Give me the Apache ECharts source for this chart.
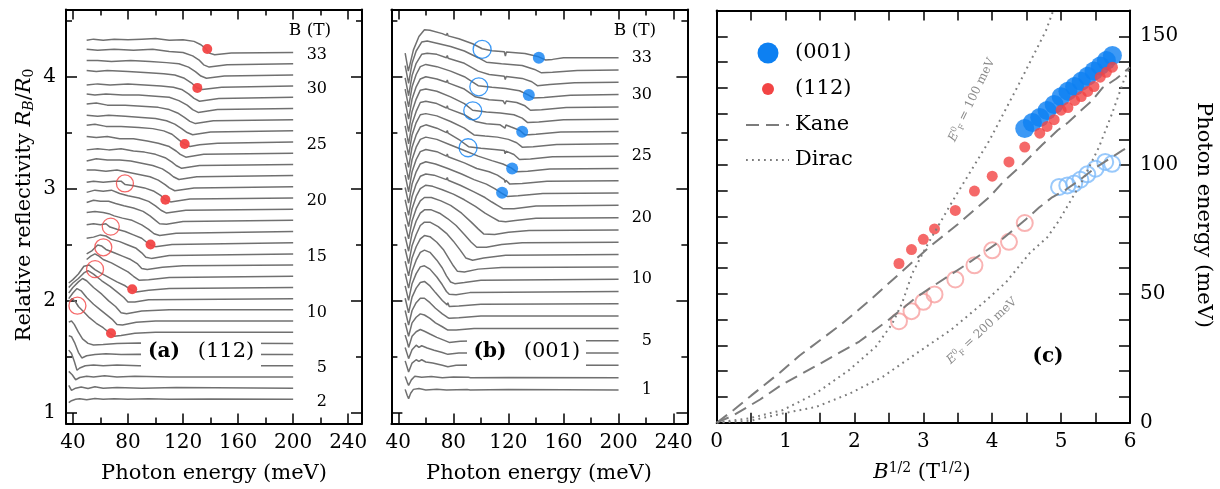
<!DOCTYPE html>
<html><head><meta charset="utf-8">
<script src="https://cdn.jsdelivr.net/npm/echarts@6/dist/echarts.min.js"></script>
<style>html,body{margin:0;padding:0;background:#fff}#c{width:1220px;height:489px}</style>
</head><body><div id="c"></div><script>
// ---------------- DATA ----------------
// Panel (a): (112) spectra, field B (T); each curve = [photon energy meV, R_B/R_0 - 1 relative to curve's offset]
const fieldsA = [2,3,4,5,6,7,8,9,10,11,12,13,14,15,16,17,18,19,20,21,22,23,24,25,26,27,28,29,30,31,32,33];
const offsetBaseA = 0.916, offsetStepA = 0.1;
const spectraA = [
 [[37,-0.03],[39,-0.012],[42,0.0],[45,0.006],[50,-0.004],[56,0.008],[62,0.0],[70,0.006],[80,0.0],[95,0.006],[110,0.0],[140,0.003],[200,0]],
 [[37,0.025],[39,-0.02],[42,0.0],[46,0.01],[51,-0.004],[56,0.012],[62,0.0],[72,0.006],[90,0.0],[115,0.005],[200,0]],
 [[37,0.05],[39.5,0.02],[42,-0.025],[45,-0.005],[50,0.006],[55,0.0],[63,0.01],[72,0.0],[85,0.006],[110,0.0],[200,0]],
 [[37,0.14],[39,0.11],[41,0.04],[43,-0.04],[45,-0.02],[49,0.0],[55,0.008],[62,0.0],[72,0.006],[88,0.0],[200,0]],
 [[37,0.17],[39,0.16],[41.5,0.1],[44,0.02],[46.5,-0.03],[50,-0.01],[56,0.0],[64,0.008],[75,0.0],[88,0.004],[200,0]],
 [[37,0.19],[39,0.2],[41,0.17],[44,0.1],[47,0.04],[51,0.0],[55,-0.015],[62,-0.01],[72,0.0],[88,0.004],[200,0]],
 [[37,0.27],[39.5,0.3],[42,0.27],[44,0.23],[48,0.18],[52,0.13],[57,0.08],[62,0.04],[66,0.0],[70,-0.035],[75,-0.03],[85,-0.01],[100,0.0],[200,0]],
 [[37,0.2],[40,0.25],[43,0.29],[46,0.27],[50,0.21],[55,0.15],[60,0.1],[65,0.05],[69,0.01],[72,-0.03],[76,-0.035],[86,-0.01],[100,0],[200,0]],
 [[37,0.15],[40,0.2],[44,0.25],[47,0.28],[50,0.26],[55,0.2],[61,0.14],[66,0.08],[71,0.03],[75,-0.025],[79,-0.035],[90,-0.01],[110,0],[200,0]],
 [[37,0.1],[40,0.14],[44,0.18],[48,0.23],[51,0.25],[55,0.22],[61,0.16],[67,0.11],[72,0.06],[77,0.01],[80,-0.03],[85,-0.03],[95,-0.01],[200,0]],
 [[37,0.04],[40,0.07],[44,0.12],[48,0.19],[52,0.2],[56,0.16],[60,0.13],[66,0.09],[72,0.05],[78,0.015],[82,-0.02],[86,-0.04],[95,-0.025],[110,-0.01],[200,0]],
 [[50,0.15],[53,0.18],[56,0.2],[59,0.18],[62,0.15],[68,0.12],[74,0.08],[80,0.04],[84,0.0],[88,-0.035],[95,-0.03],[110,-0.01],[200,0]],
 [[50,0.1],[54,0.13],[58,0.18],[61,0.17],[64,0.14],[70,0.11],[76,0.08],[82,0.05],[87,0.01],[90,-0.03],[94,-0.04],[105,-0.02],[120,-0.005],[200,0]],
 [[50,0.14],[55,0.15],[60,0.17],[64,0.16],[68,0.13],[74,0.11],[80,0.08],[86,0.05],[90,0.01],[93,-0.03],[97,-0.04],[110,-0.015],[200,0]],
 [[50,0.16],[55,0.17],[60,0.16],[64,0.17],[67,0.14],[72,0.12],[78,0.1],[84,0.07],[90,0.04],[94,0.0],[96.5,-0.02],[100,-0.035],[112,-0.015],[200,0]],
 [[50,0.17],[56,0.18],[62,0.17],[66,0.16],[70,0.14],[76,0.12],[83,0.1],[90,0.06],[95,0.02],[99,-0.02],[103,-0.035],[115,-0.015],[200,0]],
 [[50,0.16],[55,0.18],[60,0.17],[66,0.17],[71,0.15],[77,0.13],[84,0.11],[91,0.08],[96,0.04],[100,0.0],[103,-0.03],[108,-0.035],[120,-0.01],[200,0]],
 [[50,0.15],[56,0.17],[62,0.16],[68,0.17],[74,0.14],[80,0.12],[88,0.1],[95,0.07],[100,0.03],[104,-0.01],[108,-0.035],[122,-0.01],[200,0]],
 [[50,0.14],[55,0.15],[62,0.14],[70,0.15],[75,0.15],[78,0.12],[84,0.11],[92,0.09],[99,0.06],[104,0.02],[107,-0.015],[111,-0.035],[125,-0.01],[200,0]],
 [[50,0.15],[56,0.15],[64,0.14],[72,0.15],[80,0.13],[88,0.11],[96,0.09],[102,0.06],[107,0.02],[110,-0.01],[114,-0.035],[128,-0.01],[200,0]],
 [[50,0.13],[57,0.15],[65,0.14],[74,0.14],[82,0.13],[90,0.11],[98,0.09],[105,0.06],[110,0.02],[113,-0.01],[117,-0.035],[130,-0.01],[200,0]],
 [[50,0.13],[58,0.14],[66,0.13],[75,0.14],[84,0.12],[92,0.11],[100,0.09],[107,0.06],[112,0.02],[115,-0.01],[119,-0.035],[132,-0.01],[200,0]],
 [[50,0.15],[57,0.14],[65,0.15],[74,0.13],[84,0.13],[94,0.11],[102,0.09],[110,0.06],[115,0.02],[118,-0.01],[122,-0.035],[135,-0.01],[200,0]],
 [[50,0.15],[56,0.16],[64,0.14],[75,0.14],[88,0.13],[98,0.12],[106,0.1],[112,0.07],[117,0.02],[121,-0.018],[125,-0.04],[132,-0.025],[145,-0.01],[200,0]],
 [[50,0.14],[58,0.13],[66,0.14],[78,0.13],[90,0.12],[100,0.11],[108,0.09],[114,0.06],[119,0.02],[123,-0.015],[127,-0.035],[140,-0.01],[200,0]],
 [[50,0.14],[57,0.15],[65,0.13],[78,0.13],[90,0.12],[102,0.11],[110,0.09],[116,0.06],[121,0.02],[125,-0.015],[129,-0.035],[142,-0.01],[200,0]],
 [[50,0.13],[56,0.12],[64,0.13],[76,0.12],[88,0.12],[100,0.11],[110,0.1],[117,0.07],[123,0.03],[127,-0.01],[131,-0.035],[145,-0.01],[200,0]],
 [[50,0.11],[58,0.12],[67,0.11],[80,0.12],[92,0.11],[104,0.1],[113,0.09],[119,0.07],[124,0.03],[128,-0.01],[132,-0.035],[146,-0.01],[200,0]],
 [[50,0.14],[57,0.13],[65,0.14],[80,0.13],[95,0.12],[106,0.11],[114,0.1],[121,0.07],[126,0.03],[130,-0.015],[134,-0.03],[148,-0.01],[200,0]],
 [[50,0.13],[58,0.13],[68,0.12],[82,0.13],[96,0.12],[108,0.11],[117,0.1],[124,0.07],[129,0.03],[133,-0.01],[137,-0.03],[150,-0.01],[200,0]],
 [[50,0.13],[58,0.12],[70,0.13],[84,0.12],[98,0.13],[110,0.11],[120,0.1],[127,0.07],[132,0.03],[135,-0.01],[139,-0.03],[152,-0.01],[200,0]],
 [[50,0.11],[55,0.12],[62,0.11],[70,0.12],[80,0.115],[90,0.12],[100,0.125],[110,0.11],[120,0.115],[128,0.1],[133,0.07],[136,0.04],[139,-0.005],[143,-0.02],[155,-0.005],[200,0]]
];
const labelFieldsA = [2,5,10,15,20,25,30,33];
const dots112 = [[67.7,1.706],[83.1,2.10],[96.4,2.50],[107.2,2.90],[121.2,3.398],[130.4,3.90],[137.6,4.247]];
const open112 = [[43.3,1.953],[56.1,2.28],[62.1,2.475],[67.5,2.66],[77.8,3.046]];

// Panel (b): (001) spectra
const fieldsB = [1,2,3,4,5,6,7,8,9,10,12,14,16,18,20,21,22,23,24,25,26,27,28,29,30,31,32,33];
const offsetBaseB = 1.2, offsetStepB = 0.11;
const spectraB = [
 [[45,0.005],[46.5,-0.05],[47.5,-0.078],[49,-0.03],[51,0.005],[55,0.012],[60,0.0],[68,0.006],[75,0.0],[75.7,0.012],[76.4,0.0],[90,0.004],[91.3,0.02],[92.3,0.0],[120,0.004],[200,0]],
 [[45,0.01],[46.5,-0.04],[47.5,-0.07],[49.5,-0.02],[52,0.012],[57,0.004],[64,0.01],[72,0.0],[80,0.006],[91,0.003],[91.7,0.014],[92.5,0.0],[120,0.002],[200,0]],
 [[45,0.04],[46.5,-0.02],[47.5,-0.06],[50,0.02],[53,0.05],[55,0.035],[57,0.05],[60,0.03],[65,0.02],[72,0.0],[76,-0.012],[82,0.0],[92,0.004],[200,0]],
 [[45,0.05],[46.5,-0.01],[47.5,-0.05],[50,0.03],[53,0.07],[55,0.05],[57,0.065],[61,0.045],[66,0.025],[72,0.005],[76,-0.012],[84,0.0],[200,0]],
 [[45,0.05],[46.5,-0.01],[47.5,-0.06],[50,0.04],[53,0.08],[56,0.1],[59,0.085],[63,0.06],[68,0.03],[73,0.005],[77,-0.015],[85,-0.005],[100,0],[200,0]],
 [[45,0.05],[47.5,-0.07],[50,0.05],[53,0.1],[56,0.13],[59,0.12],[63,0.09],[67,0.05],[72,0.015],[76,-0.015],[82,-0.015],[95,0],[200,0]],
 [[45,0.05],[47.5,-0.08],[50,0.05],[53,0.12],[56,0.16],[59,0.16],[63,0.12],[67,0.07],[72,0.02],[75.5,-0.01],[76,0.005],[77,-0.02],[84,-0.015],[100,0],[200,0]],
 [[45,0.05],[47.5,-0.08],[50,0.06],[53,0.14],[56,0.19],[59,0.2],[63,0.16],[67,0.1],[72,0.03],[75.5,-0.01],[76,0.01],[77,-0.025],[84,-0.02],[100,-0.005],[200,0]],
 [[45,0.05],[47.5,-0.08],[50,0.07],[53,0.16],[56,0.22],[59,0.23],[63,0.2],[68,0.13],[72,0.06],[75,0.0],[76,0.015],[77,-0.025],[82,-0.03],[92,-0.01],[200,0]],
 [[45,0.05],[47.5,-0.08],[50,0.07],[53,0.17],[56,0.24],[59,0.26],[63,0.24],[68,0.17],[72,0.1],[75,0.03],[78,-0.025],[81,-0.04],[88,-0.03],[100,-0.01],[200,0]],
 [[45,0.05],[47.5,-0.08],[50,0.08],[53,0.18],[56,0.25],[59,0.28],[63,0.27],[68,0.22],[73,0.15],[77,0.07],[80,0.01],[83,-0.04],[88,-0.045],[98,-0.02],[115,-0.005],[200,0]],
 [[45,0.05],[47.5,-0.08],[50,0.08],[53,0.18],[56,0.26],[59,0.29],[63,0.29],[69,0.25],[75,0.19],[80,0.12],[85,0.04],[89,-0.03],[94,-0.05],[102,-0.03],[118,-0.005],[200,0]],
 [[45,0.05],[47.5,-0.08],[50,0.08],[53,0.19],[56,0.26],[59,0.29],[64,0.29],[70,0.26],[76,0.21],[82,0.15],[88,0.07],[93,0.0],[97,-0.045],[104,-0.045],[115,-0.02],[130,-0.005],[200,0]],
 [[45,0.05],[47.5,-0.08],[50,0.08],[53,0.19],[56,0.26],[59,0.29],[64,0.29],[71,0.26],[78,0.22],[86,0.15],[93,0.07],[98,0.01],[102,-0.035],[110,-0.04],[120,-0.02],[135,-0.005],[200,0]],
 [[45,0.05],[47.5,-0.08],[50,0.08],[53,0.19],[56,0.26],[60,0.29],[65,0.28],[72,0.25],[80,0.21],[88,0.16],[96,0.1],[103,0.04],[108,0.005],[113,-0.03],[118,-0.036],[125,-0.025],[140,-0.005],[200,0]],
 [[45,0.05],[47.5,-0.09],[50,0.08],[53,0.19],[56,0.26],[60,0.28],[66,0.27],[75,0.23],[75.6,0.25],[76.2,0.225],[85,0.18],[95,0.12],[103,0.07],[108,0.03],[112,0.0],[116,-0.03],[124,-0.03],[140,-0.005],[200,0]],
 [[45,0.05],[47.5,-0.09],[50,0.08],[53,0.19],[56,0.26],[60,0.28],[67,0.26],[76,0.22],[86,0.17],[95,0.12],[104,0.08],[110,0.04],[115,0.0],[119,-0.03],[127,-0.025],[145,-0.005],[200,0]],
 [[45,0.05],[47.5,-0.1],[50,0.08],[53,0.19],[56,0.26],[60,0.28],[68,0.26],[75,0.22],[75.6,0.24],[76.2,0.215],[88,0.16],[97,0.11],[106,0.08],[112,0.05],[117,0.01],[117.6,-0.015],[118.2,0.005],[121,-0.03],[130,-0.025],[148,-0.005],[200,0]],
 [[45,0.05],[47.5,-0.1],[50,0.08],[53,0.19],[56,0.26],[60,0.28],[68,0.26],[78,0.21],[88,0.16],[98,0.11],[108,0.07],[116,0.04],[122,0.005],[126,-0.03],[134,-0.025],[150,-0.005],[200,0]],
 [[45,0.05],[47.5,-0.1],[50,0.08],[53,0.19],[56,0.26],[60,0.28],[68,0.25],[75,0.21],[75.6,0.23],[76.2,0.205],[85,0.14],[91,0.085],[100,0.07],[110,0.06],[117,0.05],[117.6,0.02],[118.2,0.045],[124,0.015],[128,-0.03],[136,-0.025],[152,-0.005],[200,0]],
 [[45,0.05],[47.5,-0.1],[50,0.08],[53,0.19],[56,0.26],[60,0.27],[68,0.25],[78,0.2],[88,0.14],[95,0.08],[103,0.07],[112,0.06],[120,0.04],[126,0.01],[130,-0.03],[138,-0.025],[155,-0.005],[200,0]],
 [[45,0.05],[47.5,-0.11],[50,0.07],[53,0.18],[56,0.26],[60,0.27],[68,0.25],[75,0.21],[75.6,0.23],[76.2,0.205],[88,0.15],[96,0.09],[104,0.07],[114,0.06],[117.5,0.03],[118.2,0.058],[122,0.04],[128,0.012],[132,-0.03],[140,-0.025],[158,-0.005],[200,0]],
 [[45,0.05],[47.5,-0.11],[50,0.07],[53,0.18],[56,0.26],[60,0.27],[68,0.25],[78,0.2],[88,0.14],[94,0.08],[104,0.065],[114,0.055],[124,0.04],[130,0.01],[134,-0.03],[142,-0.025],[160,-0.005],[200,0]],
 [[45,0.05],[47.5,-0.11],[50,0.07],[53,0.18],[56,0.25],[60,0.27],[68,0.25],[75,0.22],[75.6,0.24],[76.2,0.215],[88,0.16],[96,0.09],[106,0.065],[116,0.055],[117.6,0.025],[118.3,0.052],[126,0.04],[132,0.01],[136,-0.03],[144,-0.025],[162,-0.005],[200,0]],
 [[45,0.05],[47.5,-0.11],[50,0.07],[53,0.18],[56,0.25],[60,0.27],[68,0.25],[78,0.21],[88,0.16],[98,0.08],[108,0.065],[118,0.055],[128,0.035],[134,0.0],[138,-0.03],[146,-0.025],[165,-0.005],[200,0]],
 [[45,0.04],[47.5,-0.12],[50,0.06],[53,0.17],[57,0.25],[61,0.26],[68,0.25],[75,0.22],[75.6,0.24],[76.2,0.215],[88,0.17],[98,0.1],[106,0.07],[117,0.055],[117.7,0.025],[118.4,0.052],[130,0.035],[137,0.005],[141,-0.03],[150,-0.02],[168,-0.005],[200,0]],
 [[45,0.04],[47.5,-0.12],[50,0.06],[53,0.17],[57,0.25],[61,0.26],[68,0.24],[78,0.21],[88,0.17],[98,0.11],[104,0.07],[115,0.055],[130,0.04],[139,0.005],[144,-0.025],[152,-0.02],[170,-0.005],[200,0]],
 [[45,0.04],[47.3,-0.12],[51,0.07],[55,0.19],[59,0.25],[63,0.245],[72,0.215],[75,0.2],[75.6,0.22],[76.2,0.195],[84,0.17],[94,0.125],[101,0.08],[108,0.062],[117,0.053],[117.8,0.015],[118.5,0.05],[132,0.038],[142,0.008],[147,-0.021],[152,-0.015],[160,0],[200,0]]
];
const labelFieldsB = [1,5,10,20,25,30,33];
const dots001 = [[115.4,2.963],[122.7,3.18],[130.0,3.508],[134.8,3.836],[142.1,4.169]];
const open001 = [[90.7,3.365],[94.1,3.695],[98.5,3.91],[100.9,4.244]];

// Panel (c): transition energies vs B^(1/2)
const rootB112 = [2.646,2.828,3.0,3.162,3.464,3.742,4.0,4.243,4.472,4.690,4.796,4.899,5.0,5.099,5.196,5.292,5.385,5.477,5.568,5.657,5.745];
const E112 = [61.8,67.2,71.2,75.2,82.4,89.9,95.7,101.2,107,112.4,115,117.6,121.3,122.3,125.1,126.6,128.6,130.5,134.1,136,138];
const rootB112open = [2.646,2.828,3.0,3.162,3.464,3.742,4.0,4.243,4.472];
const E112open = [39.4,43.3,46.9,49.8,55.6,61.1,66.9,70.2,77.5];
const rootB001 = [4.472,4.583,4.690,4.796,4.899,5.0,5.099,5.196,5.292,5.385,5.477,5.568,5.657,5.745];
const E001 = [114.2,116.5,118.5,121.2,123.5,126.5,128.7,130.5,132.5,134.5,136.5,138.5,140.6,142.5];
const rootB001open = [4.97,5.09,5.19,5.28,5.38,5.50,5.64,5.74];
const E001open = [91.5,92.1,92.8,94.3,96.4,98.6,101.2,100.5];
const kaneUpper = [[0,0],[0.25,5],[0.5,10.5],[0.92,19.5],[1.2,26],[1.5,32],[1.8,38],[2.2,47],[2.64,57.5],[3.1,68.5],[3.5,77],[3.96,87.6],[4.16,93.5],[4.45,100.5],[4.73,108],[4.95,113.5],[5.1,116.5],[5.3,121.5],[5.45,125],[5.6,130],[5.8,133.5],[6.0,138]];
const kaneLower = [[0,0],[0.24,2.8],[0.63,9],[0.96,15],[1.44,22],[2.07,31.5],[2.5,40],[2.89,48.5],[3.14,53],[3.6,61],[4.1,70.2],[4.49,79],[4.68,83.5],[4.87,87.5],[5.07,90.5],[5.26,94],[5.5,99],[5.89,105.7],[6.0,107.5]];
const diracUpper = [[0,0],[0.47,1.7],[0.96,4.9],[1.44,11.4],[1.92,20.4],[2.31,29.5],[2.55,38.5],[2.69,46.3],[2.84,58],[3.04,68.2],[3.43,86.3],[3.96,109.6],[4.39,131.6],[4.78,152.2],[4.9,161]];
const diracLower = [[0,0],[0.5,0.8],[0.96,3.6],[1.44,6.1],[1.93,11.3],[2.41,17.8],[2.9,26.9],[3.4,36],[3.86,46.3],[4.2,54.5],[4.55,66],[4.8,72],[4.97,78.5],[5.31,94],[5.55,107],[5.74,120],[5.91,132.8],[6.0,138]];

// ---------------- STYLE ----------------
const FONT = '"DejaVu Serif", serif';
const BLUE = '#0d80f2', RED = '#f24444', GRAYL = '#707070', GRAYC = '#7c7c7c';
const axLine = {show:true, onZero:false, lineStyle:{color:'#000', width:2}};
const tickStyle = {color:'#000', width:1.5};
const lab = {color:'#000', fontFamily:FONT, fontSize:20};

function ax(o){ return Object.assign({type:'value', splitLine:{show:false}, axisLine:axLine, axisLabel:{show:false}, axisTick:{show:false}}, o); }
function specAxes(g){
  const xs = [], ys = [];
  const maj = [40,80,120,160,200,240], mnr = [60,100,140,180,220];
  const ymaj = [1,2,3,4], ymnr = [1.5,2.5,3.5,4.5];
  ['bottom','top'].forEach(p=>{
    xs.push(ax({gridIndex:g, position:p, min:35, max:250, axisTick:{show:true, inside:true, length:10, customValues:maj, lineStyle:tickStyle},
      axisLabel: p==='bottom' ? Object.assign({show:true, margin:9, customValues:maj}, lab) : {show:false}}));
    xs.push(ax({gridIndex:g, position:p, min:35, max:250, axisLine:{show:false}, axisTick:{show:true, inside:true, length:6, customValues:mnr, lineStyle:tickStyle}}));
  });
  ['left','right'].forEach(p=>{
    ys.push(ax({gridIndex:g, position:p, min:0.9, max:4.6, axisTick:{show:true, inside:true, length:11, customValues:ymaj, lineStyle:tickStyle},
      axisLabel: (p==='left' && g===0) ? Object.assign({show:true, margin:10, customValues:ymaj}, lab) : {show:false}}));
    ys.push(ax({gridIndex:g, position:p, min:0.9, max:4.6, axisLine:{show:false}, axisTick:{show:true, inside:true, length:6, customValues:ymnr, lineStyle:tickStyle}}));
  });
  return {xs, ys};
}
const A = specAxes(0), Bx = specAxes(1);
const xAxis = [...A.xs, ...Bx.xs,
  ax({gridIndex:2, position:'bottom', min:0, max:6, interval:0.5, axisTick:{show:true, inside:true, length:10, lineStyle:tickStyle},
      axisLabel:Object.assign({show:true, margin:9, customValues:[0,1,2,3,4,5,6]}, lab)}),
  ax({gridIndex:2, position:'top', min:0, max:6, interval:0.5, axisTick:{show:true, inside:true, length:10, lineStyle:tickStyle}})
];
const yAxis = [...A.ys, ...Bx.ys,
  ax({gridIndex:2, position:'right', min:0, max:160, interval:10, axisTick:{show:true, inside:true, length:11, lineStyle:tickStyle},
      axisLabel:Object.assign({show:true, margin:10, customValues:[0,50,100,150]}, lab)}),
  ax({gridIndex:2, position:'left', min:0, max:160, interval:10, axisTick:{show:true, inside:true, length:11, lineStyle:tickStyle}})
];

const series = [];
spectraA.forEach((pts,i)=>{
  const lvl = offsetBaseA + offsetStepA*fieldsA[i];
  series.push({type:'line', xAxisIndex:0, yAxisIndex:0, showSymbol:false, symbol:'none', silent:true,
    lineStyle:{color:GRAYL, width:1.5}, data: pts.map(p=>[p[0], lvl+p[1]])});
});
spectraB.forEach((pts,i)=>{
  const lvl = offsetBaseB + offsetStepB*i;
  series.push({type:'line', xAxisIndex:4, yAxisIndex:4, showSymbol:false, symbol:'none', silent:true,
    lineStyle:{color:GRAYL, width:1.5}, data: pts.map(p=>[p[0], lvl+p[1]])});
});
series.push({type:'scatter', xAxisIndex:0, yAxisIndex:0, symbolSize:10, itemStyle:{color:RED, opacity:0.95}, data:dots112, z:5});
series.push({type:'scatter', xAxisIndex:0, yAxisIndex:0, symbolSize:17, itemStyle:{color:'rgba(0,0,0,0)', borderColor:RED, borderWidth:1.3}, data:open112, z:5});
series.push({type:'scatter', xAxisIndex:4, yAxisIndex:4, symbolSize:12, itemStyle:{color:BLUE}, data:dots001, z:5});
series.push({type:'scatter', xAxisIndex:4, yAxisIndex:4, symbolSize:18, itemStyle:{color:'rgba(0,0,0,0)', borderColor:BLUE, borderWidth:1.3}, data:open001, z:5});
// panel c
const lineC = (d,type)=>({type:'line', xAxisIndex:8, yAxisIndex:8, showSymbol:false, symbol:'none', clip:true,
  lineStyle:{color:GRAYC, width:2, type:type}, data:d});
series.push(lineC(kaneUpper,[13,7]), lineC(kaneLower,[13,7]), lineC(diracUpper,[1.8,4.2]), lineC(diracLower,[1.8,4.2]));
series.push({type:'scatter', xAxisIndex:8, yAxisIndex:8, symbolSize:16, itemStyle:{color:'rgba(0,0,0,0)', borderColor:'#f7a0a0', borderWidth:2}, data:rootB112open.map((x,i)=>[x,E112open[i]])});
series.push({type:'scatter', xAxisIndex:8, yAxisIndex:8, symbolSize:16, itemStyle:{color:'rgba(0,0,0,0)', borderColor:'#7fbcfa', borderWidth:2}, data:rootB001open.map((x,i)=>[x,E001open[i]])});
series.push({type:'scatter', xAxisIndex:8, yAxisIndex:8, symbolSize:19, itemStyle:{color:BLUE}, data:rootB001.map((x,i)=>[x,E001[i]])});
series.push({type:'scatter', xAxisIndex:8, yAxisIndex:8, symbolSize:11, itemStyle:{color:RED}, data:rootB112.map((x,i)=>[x,E112[i]])});

// ---------------- TEXT / GRAPHIC ----------------
const rich = (fs)=>({
  i:{fontStyle:'italic', fontFamily:FONT, fontSize:fs, fill:'#000'},
  sub:{fontFamily:FONT, fontSize:Math.round(fs*0.68), verticalAlign:'bottom', lineHeight:Math.round(fs*0.35), fill:'#000'},
  isub:{fontFamily:FONT, fontStyle:'italic', fontSize:Math.round(fs*0.68), verticalAlign:'bottom', lineHeight:Math.round(fs*0.35), fill:'#000'},
  sup:{fontFamily:FONT, fontSize:Math.round(fs*0.68), verticalAlign:'top', lineHeight:Math.round(fs*0.35), fill:'#000'}
});
function T(x,y,text,o){
  o = o||{};
  return {type:'text', x:x, y:y, rotation:o.rot||0, z:200,
    style:{text:text, fontFamily:FONT, fontSize:o.fs||20, fontWeight:o.fw||'normal', fill:o.fill||'#000',
      align:o.align||'center', verticalAlign:'middle', textAlign:o.align||'center', textVerticalAlign:'middle',
      lineHeight:o.lh||((o.fs||20)+2), rich:o.rich}};
}
const gRich = {gi:{fontStyle:'italic',fontSize:12,fontFamily:FONT,fill:'#8a8a8a'}, gsup:{fontSize:8,fontFamily:FONT,fill:'#8a8a8a',verticalAlign:'top',lineHeight:4}, gsub:{fontSize:8,fontFamily:FONT,fill:'#8a8a8a',verticalAlign:'bottom',lineHeight:4}};
const graphics = [
  {type:'rect', z:150, shape:{x:141, y:337, width:120, height:35}, style:{fill:'#fff'}},
  {type:'rect', z:150, shape:{x:467, y:334, width:119, height:38}, style:{fill:'#fff'}},
  T(164,352,'(a)',{fw:'bold',fs:20}), T(226,352,'(112)',{fs:21}),
  T(490,352,'(b)',{fw:'bold',fs:20}), T(552,352,'(001)',{fs:21}),
  T(1048,357,'(c)',{fw:'bold',fs:20}),
  T(310,31,'B (T)',{fs:17}), T(635,31,'B (T)',{fs:17}),
  T(214,474,'Photon energy (meV)',{fs:21}), T(539,474,'Photon energy (meV)',{fs:21}),
  T(922,473,'{i|B}{sup|1/2} (T{sup|1/2})',{fs:21, rich:rich(21)}),
  T(25,205,'Relative reflectivity {i|R}{isub|B}/{i|R}{sub|0}',{fs:21, rot:Math.PI/2, rich:rich(21)}),
  T(1203,215,'Photon energy (meV)',{fs:21, rot:-Math.PI/2}),
  T(972,100,'{gi|E}{gsup|0}{gsub|F} = 100 meV',{fs:12, fill:'#8a8a8a', rot:64*Math.PI/180, rich:gRich}),
  T(982,331,'{gi|E}{gsup|0}{gsub|F} = 200 meV',{fs:12, fill:'#8a8a8a', rot:43*Math.PI/180, rich:gRich}),
  // legend
  {type:'circle', z:200, shape:{cx:768, cy:53, r:10.5}, style:{fill:BLUE}},
  {type:'circle', z:200, shape:{cx:768, cy:89, r:6}, style:{fill:RED}},
  {type:'line', z:200, shape:{x1:746, y1:125, x2:789, y2:125}, style:{stroke:GRAYC, lineWidth:2, lineDash:[13,7]}},
  {type:'line', z:200, shape:{x1:746, y1:160, x2:789, y2:160}, style:{stroke:GRAYC, lineWidth:2, lineDash:[1.8,4.2]}},
  T(795,53,'(001)',{fs:21, align:'left'}), T(795,89,'(112)',{fs:21, align:'left'}),
  T(795,125,'Kane',{fs:21, align:'left'}), T(795,160,'Dirac',{fs:21, align:'left'})
];

const chart = echarts.init(document.getElementById('c'), null, {renderer:'canvas'});
const grid = [
  {left:66, top:9.6, width:296, height:413.9},
  {left:391.4, top:9.6, width:296, height:413.9},
  {left:716.7, top:10.5, width:413.3, height:412.2}
];
chart.setOption({animation:false, backgroundColor:'#fff', grid, xAxis, yAxis, series, graphic:{elements:graphics}});
// field labels placed through the axis scales
const fieldTexts = [];
labelFieldsA.forEach(b=>{
  const lvl = offsetBaseA + offsetStepA*b;
  const p = chart.convertToPixel({xAxisIndex:0, yAxisIndex:0}, [200, lvl]);
  fieldTexts.push(T(327, p[1]+2.5, String(b), {fs:16, align:'right'}));
});
labelFieldsB.forEach(b=>{
  const i = fieldsB.indexOf(b);
  const lvl = offsetBaseB + offsetStepB*i;
  const p = chart.convertToPixel({xAxisIndex:4, yAxisIndex:4}, [200, lvl]);
  fieldTexts.push(T(652, p[1], String(b), {fs:16, align:'right'}));
});
chart.setOption({graphic:{elements:graphics.concat(fieldTexts)}}, {replaceMerge:['graphic']});
</script></body></html>
